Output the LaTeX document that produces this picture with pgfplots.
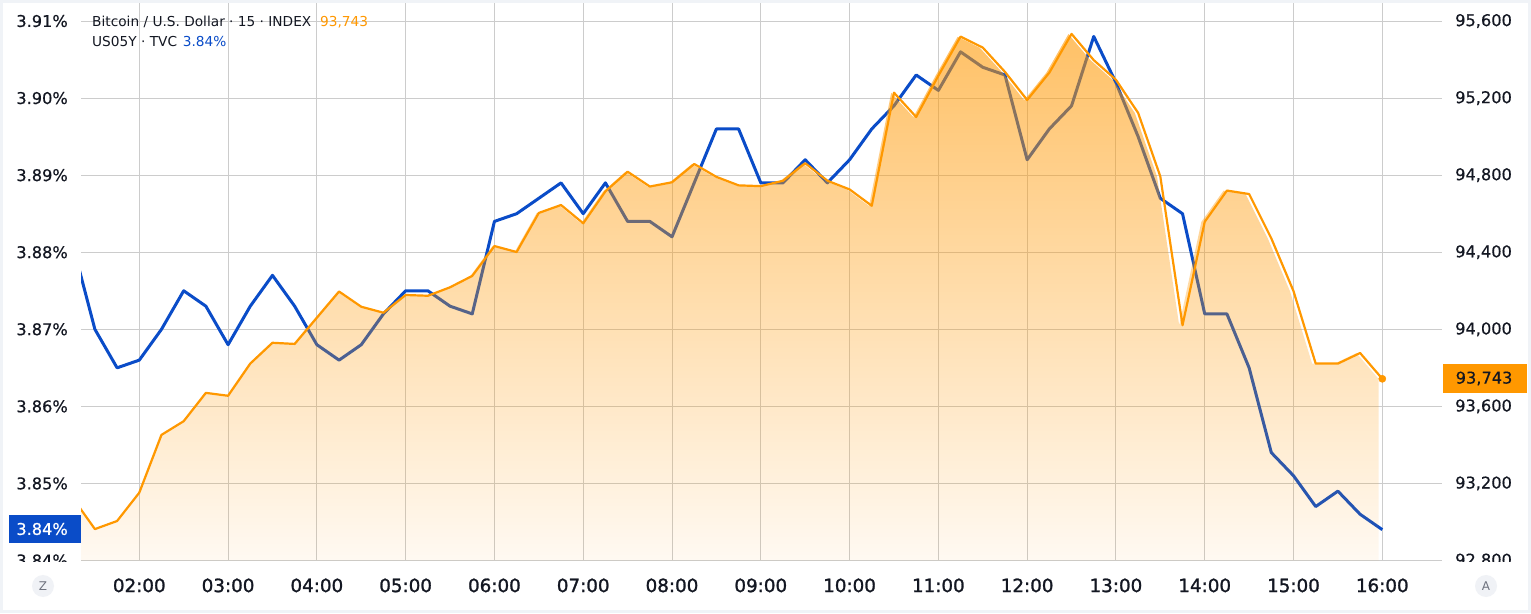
\documentclass[border=0pt]{standalone}
\usepackage{pgfplots}
\usepackage{pgfplotstable}
\pgfplotsset{compat=1.18}
\usepackage{fontspec}
\setmainfont{DejaVu Sans}
\newfontfamily\xfont[FakeBold=1.4]{DejaVu Sans}
\newfontfamily\yfont[FakeBold=0.5]{DejaVu Sans}
\usetikzlibrary{fadings}
\definecolor{tvblue}{RGB}{10,76,200}
\definecolor{tvorange}{RGB}{255,152,0}
\definecolor{gridc}{RGB}{204,204,204}
\definecolor{txt}{RGB}{19,23,34}
\definecolor{framec}{RGB}{240,243,247}
\definecolor{circc}{RGB}{240,242,246}
\definecolor{circt}{RGB}{110,114,126}
\tikzfading[name=btcfade, top color=transparent!40, bottom color=transparent!95]

\pgfplotstableread{
h y
1.25 3.881
1.5 3.870
1.75 3.865
2.0 3.866
2.25 3.870
2.5 3.875
2.75 3.873
3.0 3.868
3.25 3.873
3.5 3.877
3.75 3.873
4.0 3.868
4.25 3.866
4.5 3.868
4.75 3.872
5.0 3.875
5.25 3.875
5.5 3.873
5.75 3.872
6.0 3.884
6.25 3.885
6.5 3.887
6.75 3.889
7.0 3.885
7.25 3.889
7.5 3.884
7.75 3.884
8.0 3.882
8.25 3.889
8.5 3.896
8.75 3.896
9.0 3.889
9.25 3.889
9.5 3.892
9.75 3.889
10.0 3.892
10.25 3.896
10.5 3.899
10.75 3.903
11.0 3.901
11.25 3.906
11.5 3.904
11.75 3.903
12.0 3.892
12.25 3.896
12.5 3.899
12.75 3.908
13.0 3.902
13.25 3.895
13.5 3.887
13.75 3.885
14.0 3.872
14.25 3.872
14.5 3.865
14.75 3.854
15.0 3.851
15.25 3.847
15.5 3.849
15.75 3.846
16.0 3.844
}\usy

\pgfplotstableread{
h p
1.25 93125
1.5 92963
1.75 93005
2.0 93152
2.25 93452
2.5 93523
2.75 93670
3.0 93655
3.25 93822
3.5 93930
3.75 93924
4.0 94060
4.25 94196
4.5 94117
4.75 94086
5.0 94178
5.25 94174
5.5 94218
5.75 94277
6.0 94432
6.25 94401
6.5 94604
6.75 94645
7.0 94550
7.25 94716
7.5 94818
7.75 94741
8.0 94763
8.25 94858
8.5 94791
8.75 94747
9.0 94743
9.25 94771
9.5 94862
9.75 94771
10.0 94726
10.25 94641
10.5 95228
10.75 95102
11.0 95316
11.25 95519
11.5 95462
11.75 95336
12.0 95190
12.25 95332
12.5 95533
12.75 95397
13.0 95295
13.25 95123
13.5 94793
13.75 94021
14.0 94558
14.25 94720
14.5 94702
14.75 94472
15.0 94198
15.25 93822
15.5 93822
15.75 93877
16.0 93743
}\btc

\pgfplotstableread{
h p
1.25 92800
1.25 93125
1.5 92963
1.75 93005
2.0 93152
2.25 93452
2.5 93523
2.75 93670
3.0 93655
3.25 93822
3.5 93930
3.75 93924
4.0 94060
4.25 94196
4.5 94117
4.75 94086
5.0 94178
5.25 94174
5.5 94218
5.75 94277
6.0 94432
6.25 94401
6.5 94604
6.75 94645
7.0 94550
7.25 94716
7.5 94818
7.75 94741
8.0 94763
8.25 94858
8.5 94791
8.75 94747
9.0 94743
9.25 94771
9.5 94862
9.75 94771
10.0 94726
10.25 94641
10.5 95228
10.75 95102
11.0 95316
11.25 95519
11.5 95462
11.75 95336
12.0 95190
12.25 95332
12.5 95533
12.75 95397
13.0 95295
13.25 95123
13.5 94793
13.75 94021
14.0 94558
14.25 94720
14.5 94702
14.75 94472
15.0 94198
15.25 93822
15.5 93822
15.75 93877
16.0 93743
16.0 92800
}\btcarea

\begin{document}
\begin{tikzpicture}
\useasboundingbox (0pt,0pt) rectangle (1531pt,613pt);
\fill[white] (0pt,0pt) rectangle (1531pt,613pt);

\begin{axis}[
  at={(81pt,52.5pt)}, anchor=south west,
  scale only axis, width=1360.5pt, height=557.5pt,
  xmin=1.3434, xmax=16.667, ymin=3.84, ymax=3.91234,
  axis lines*=left, axis line style={draw=none},
  tick style={draw=none}, major tick length=0pt,
  xtick={2,3,...,16},
  xticklabels={02:00,03:00,04:00,05:00,06:00,07:00,08:00,09:00,10:00,11:00,12:00,13:00,14:00,15:00,16:00},
  ytick={3.84,3.85,3.86,3.87,3.88,3.89,3.90,3.91},
  yticklabels={3.84\%,3.85\%,3.86\%,3.87\%,3.88\%,3.89\%,3.90\%,3.91\%},
  grid=major, grid style={line width=1pt, gridc},
  xticklabel style={anchor=north, inner sep=0pt, yshift=-17.8pt, font=\xfont\fontsize{18.3}{20}\selectfont, text=txt},
  yticklabel style={anchor=east, inner sep=0pt, xshift=-13pt, font=\yfont\fontsize{16.2}{18}\selectfont, text=txt},
  clip=true,
]
\addplot[tvblue, line width=3pt, line join=round] table[x=h,y=y]{\usy};
\end{axis}

\begin{axis}[
  at={(81pt,52.5pt)}, anchor=south west,
  scale only axis, width=1360.5pt, height=557.5pt,
  xmin=1.3434, xmax=16.667, ymin=92800, ymax=95693.5,
  axis y line*=right, axis x line=none, axis line style={draw=none},
  tick style={draw=none}, major tick length=0pt,
  xtick=\empty,
  ytick={92800,93200,93600,94000,94400,94800,95200,95600},
  yticklabels={{92,800},{93,200},{93,600},{94,000},{94,400},{94,800},{95,200},{95,600}},
  yticklabel style={anchor=west, inner sep=0pt, xshift=13.5pt, font=\yfont\fontsize{16.2}{18}\selectfont, text=txt},
  clip=true,
]
\addplot[draw=none, fill=tvorange, path fading=btcfade] table[x=h,y=p]{\btcarea};
\addplot[tvorange, line width=2.2pt, line join=round] table[x=h,y=p]{\btc};
\addplot[only marks, mark=*, mark size=3.6pt, tvorange] coordinates {(16,93743)};
\end{axis}

% clip the tick labels at the bottom of the price scales
\fill[white] (3pt,41pt) rectangle (80pt,51pt);
\fill[white] (1443pt,41pt) rectangle (1528pt,51pt);

% last value boxes
\fill[tvblue] (9pt,70pt) rectangle (81pt,98pt);
\node[anchor=east, inner sep=0pt, text=white, font=\yfont\fontsize{16.2}{18}\selectfont] at (68pt,84pt) {3.84\%};
\fill[tvorange] (1443pt,220pt) rectangle (1527pt,249pt);
\node[anchor=west, inner sep=0pt, text=txt, font=\yfont\fontsize{16.2}{18}\selectfont] at (1455.5pt,234.5pt) {93,743};

% legend
\node[anchor=base west, inner sep=0pt, text=txt, font=\fontsize{13.7}{16}\selectfont] at (92pt,586.3pt) {Bitcoin / U.S. Dollar · 15 · INDEX};
\node[anchor=base west, inner sep=0pt, text=tvorange, font=\fontsize{13.7}{16}\selectfont] at (320pt,586.3pt) {93,743};
\node[anchor=base west, inner sep=0pt, text=txt, font=\fontsize{13.7}{16}\selectfont] at (92pt,566.3pt) {US05Y · TVC};
\node[anchor=base west, inner sep=0pt, text=tvblue, font=\fontsize{13.7}{16}\selectfont] at (182.7pt,566.3pt) {3.84\%};

% scale buttons
\fill[circc] (43pt,27pt) circle (11pt);
\node[text=circt, font=\fontsize{12}{14}\selectfont, inner sep=0pt] at (43pt,27pt) {Z};
\fill[circc] (1486pt,27pt) circle (11pt);
\node[text=circt, font=\fontsize{12}{14}\selectfont, inner sep=0pt] at (1486pt,27pt) {A};

% outer frame
\draw[framec, line width=3pt] (1.5pt,1.5pt) rectangle (1529.5pt,611.5pt);
\end{tikzpicture}
\end{document}
